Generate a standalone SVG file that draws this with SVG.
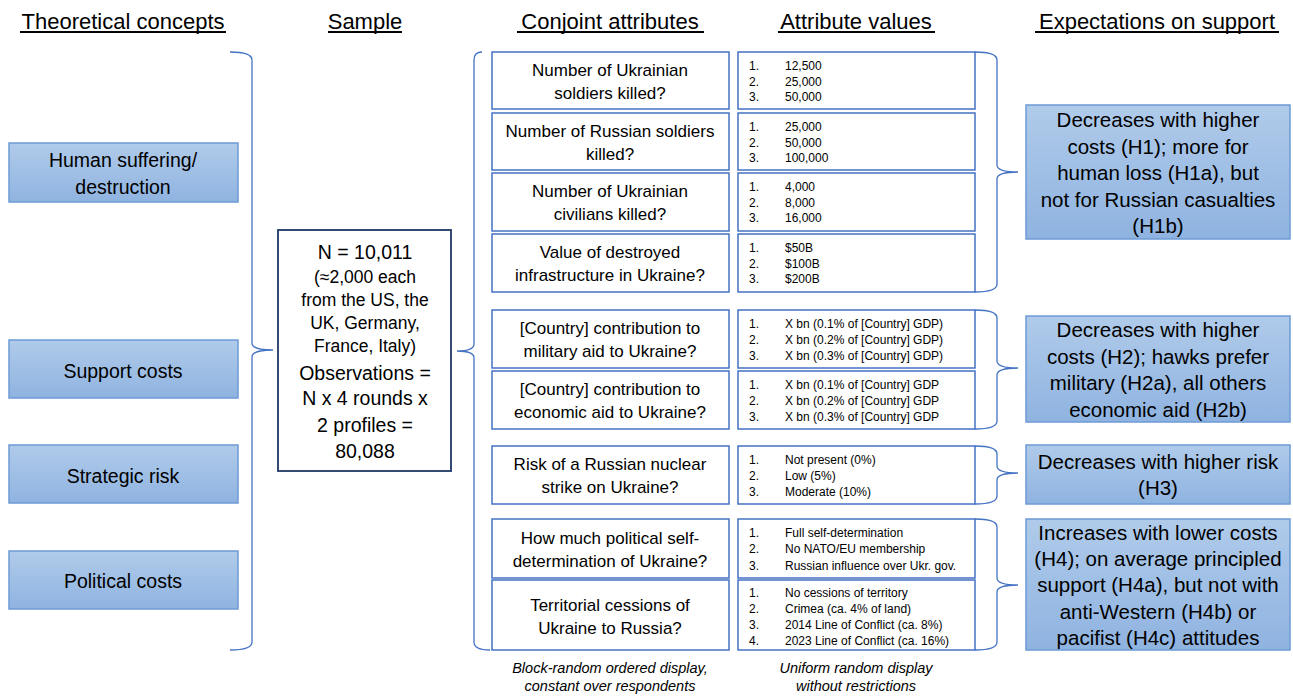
<svg xmlns="http://www.w3.org/2000/svg" width="1293" height="697" viewBox="0 0 1293 697">
<defs>
<linearGradient id="blueGrad" x1="0" y1="0" x2="0" y2="1">
<stop offset="0" stop-color="#b0cbea"/>
<stop offset="1" stop-color="#8fb3e0"/>
</linearGradient>
<style>
text{font-family:"Liberation Sans",Arial,sans-serif;fill:#000;}
.hdr{font-size:22px;text-anchor:middle;}
.uline{stroke:#000;stroke-width:2;}
.concept{fill:url(#blueGrad);stroke:#6d9ad6;stroke-width:1.5;}
.ctext{font-size:19.5px;text-anchor:middle;}
.attr{fill:#fff;stroke:#4472c4;stroke-width:1.5;}
.atext{font-size:17px;text-anchor:middle;}
.vtext{font-size:12px;}
.sample{fill:#fff;stroke:#1f3864;stroke-width:1.8;}
.stext{font-size:17.5px;text-anchor:middle;}
.sbig{font-size:19.5px;text-anchor:middle;}
.exp{fill:url(#blueGrad);stroke:#6d9ad6;stroke-width:1.5;}
.etext{font-size:20.5px;text-anchor:middle;}
.brace{fill:none;stroke:#4472c4;stroke-width:1.3;}
.note{font-size:14.5px;font-style:italic;text-anchor:middle;}
</style>
</defs>
<rect width="1293" height="697" fill="#fff"/>

<g id="headers">
<text class="hdr" x="123" y="29">Theoretical concepts</text>
<line class="uline" x1="20" y1="32" x2="226" y2="32"/>
<text class="hdr" x="365" y="29">Sample</text>
<line class="uline" x1="328" y1="32" x2="402" y2="32"/>
<text class="hdr" x="610" y="29">Conjoint attributes</text>
<line class="uline" x1="517" y1="32" x2="704" y2="32"/>
<text class="hdr" x="856" y="29">Attribute values</text>
<line class="uline" x1="778" y1="32" x2="935" y2="32"/>
<text class="hdr" x="1157" y="29">Expectations on support</text>
<line class="uline" x1="1035" y1="32" x2="1279" y2="32"/>
</g>

<g id="concept-human">
<rect class="concept" x="9" y="143" width="229" height="59"/>
<text class="ctext" x="123" y="167">Human suffering/</text>
<text class="ctext" x="123" y="194">destruction</text>
</g>
<g id="concept-support">
<rect class="concept" x="9" y="340" width="229" height="58"/>
<text class="ctext" x="123" y="378">Support costs</text>
</g>
<g id="concept-strategic">
<rect class="concept" x="9" y="445" width="229" height="58"/>
<text class="ctext" x="123" y="483">Strategic risk</text>
</g>
<g id="concept-political">
<rect class="concept" x="9" y="551" width="229" height="58"/>
<text class="ctext" x="123" y="588">Political costs</text>
</g>

<g id="sample">
<rect class="sample" x="278" y="230" width="173" height="241"/>
<text class="sbig" x="365" y="259">N = 10,011</text>
<text class="stext" x="365" y="283">(≈2,000 each</text>
<text class="stext" x="365" y="306">from the US, the</text>
<text class="stext" x="365" y="329">UK, Germany,</text>
<text class="stext" x="365" y="352">France, Italy)</text>
<text class="sbig" x="365" y="380">Observations =</text>
<text class="sbig" x="365" y="405">N x 4 rounds x</text>
<text class="sbig" x="365" y="432">2 profiles =</text>
<text class="sbig" x="365" y="458">80,088</text>
</g>

<g id="attr-ukr-soldiers">
<rect class="attr" x="492" y="52" width="237" height="57"/>
<text class="atext" x="610" y="76">Number of Ukrainian</text>
<text class="atext" x="610" y="99">soldiers killed?</text>
</g>
<g id="attr-rus-soldiers">
<rect class="attr" x="492" y="113" width="237" height="57"/>
<text class="atext" x="610" y="137">Number of Russian soldiers</text>
<text class="atext" x="610" y="160">killed?</text>
</g>
<g id="attr-civilians">
<rect class="attr" x="492" y="173" width="237" height="58"/>
<text class="atext" x="610" y="197">Number of Ukrainian</text>
<text class="atext" x="610" y="220">civilians killed?</text>
</g>
<g id="attr-infrastructure">
<rect class="attr" x="492" y="234" width="237" height="58"/>
<text class="atext" x="610" y="258">Value of destroyed</text>
<text class="atext" x="610" y="281">infrastructure in Ukraine?</text>
</g>
<g id="attr-military">
<rect class="attr" x="492" y="310" width="237" height="58"/>
<text class="atext" x="610" y="334">[Country] contribution to</text>
<text class="atext" x="610" y="357">military aid to Ukraine?</text>
</g>
<g id="attr-economic">
<rect class="attr" x="492" y="371" width="237" height="58"/>
<text class="atext" x="610" y="395">[Country] contribution to</text>
<text class="atext" x="610" y="418">economic aid to Ukraine?</text>
</g>
<g id="attr-nuclear">
<rect class="attr" x="492" y="446" width="237" height="58"/>
<text class="atext" x="610" y="470">Risk of a Russian nuclear</text>
<text class="atext" x="610" y="493">strike on Ukraine?</text>
</g>
<g id="attr-selfdet">
<rect class="attr" x="492" y="519" width="237" height="59"/>
<text class="atext" x="610" y="544">How much political self-</text>
<text class="atext" x="610" y="567">determination of Ukraine?</text>
</g>
<g id="attr-territory">
<rect class="attr" x="492" y="580" width="237" height="70"/>
<text class="atext" x="610" y="611">Territorial cessions of</text>
<text class="atext" x="610" y="634">Ukraine to Russia?</text>
</g>

<g id="val-ukr-soldiers">
<rect class="attr" x="738" y="52" width="237" height="57"/>
<text class="vtext" x="749" y="70">1.</text><text class="vtext" x="785" y="70">12,500</text>
<text class="vtext" x="749" y="85.5">2.</text><text class="vtext" x="785" y="85.5">25,000</text>
<text class="vtext" x="749" y="101">3.</text><text class="vtext" x="785" y="101">50,000</text>
</g>
<g id="val-rus-soldiers">
<rect class="attr" x="738" y="113" width="237" height="57"/>
<text class="vtext" x="749" y="131">1.</text><text class="vtext" x="785" y="131">25,000</text>
<text class="vtext" x="749" y="147">2.</text><text class="vtext" x="785" y="147">50,000</text>
<text class="vtext" x="749" y="162">3.</text><text class="vtext" x="785" y="162">100,000</text>
</g>
<g id="val-civilians">
<rect class="attr" x="738" y="173" width="237" height="58"/>
<text class="vtext" x="749" y="191">1.</text><text class="vtext" x="785" y="191">4,000</text>
<text class="vtext" x="749" y="207">2.</text><text class="vtext" x="785" y="207">8,000</text>
<text class="vtext" x="749" y="222">3.</text><text class="vtext" x="785" y="222">16,000</text>
</g>
<g id="val-infrastructure">
<rect class="attr" x="738" y="234" width="237" height="58"/>
<text class="vtext" x="749" y="252">1.</text><text class="vtext" x="785" y="252">$50B</text>
<text class="vtext" x="749" y="267.5">2.</text><text class="vtext" x="785" y="267.5">$100B</text>
<text class="vtext" x="749" y="283">3.</text><text class="vtext" x="785" y="283">$200B</text>
</g>
<g id="val-military">
<rect class="attr" x="738" y="310" width="237" height="58"/>
<text class="vtext" x="749" y="328">1.</text><text class="vtext" x="785" y="328">X bn (0.1% of [Country] GDP)</text>
<text class="vtext" x="749" y="344">2.</text><text class="vtext" x="785" y="344">X bn (0.2% of [Country] GDP)</text>
<text class="vtext" x="749" y="360">3.</text><text class="vtext" x="785" y="360">X bn (0.3% of [Country] GDP)</text>
</g>
<g id="val-economic">
<rect class="attr" x="738" y="371" width="237" height="58"/>
<text class="vtext" x="749" y="388.5">1.</text><text class="vtext" x="785" y="388.5">X bn (0.1% of [Country] GDP</text>
<text class="vtext" x="749" y="404.5">2.</text><text class="vtext" x="785" y="404.5">X bn (0.2% of [Country] GDP</text>
<text class="vtext" x="749" y="420.5">3.</text><text class="vtext" x="785" y="420.5">X bn (0.3% of [Country] GDP</text>
</g>
<g id="val-nuclear">
<rect class="attr" x="738" y="446" width="237" height="58"/>
<text class="vtext" x="749" y="463.5">1.</text><text class="vtext" x="785" y="463.5">Not present (0%)</text>
<text class="vtext" x="749" y="480">2.</text><text class="vtext" x="785" y="480">Low (5%)</text>
<text class="vtext" x="749" y="496">3.</text><text class="vtext" x="785" y="496">Moderate (10%)</text>
</g>
<g id="val-selfdet">
<rect class="attr" x="738" y="519" width="237" height="59"/>
<text class="vtext" x="749" y="536.5">1.</text><text class="vtext" x="785" y="536.5">Full self-determination</text>
<text class="vtext" x="749" y="553">2.</text><text class="vtext" x="785" y="553">No NATO/EU membership</text>
<text class="vtext" x="749" y="569.5">3.</text><text class="vtext" x="785" y="569.5">Russian influence over Ukr. gov.</text>
</g>
<g id="val-territory">
<rect class="attr" x="738" y="580" width="237" height="70"/>
<text class="vtext" x="749" y="596.5">1.</text><text class="vtext" x="785" y="596.5">No cessions of territory</text>
<text class="vtext" x="749" y="612.5">2.</text><text class="vtext" x="785" y="612.5">Crimea (ca. 4% of land)</text>
<text class="vtext" x="749" y="628.5">3.</text><text class="vtext" x="785" y="628.5">2014 Line of Conflict (ca. 8%)</text>
<text class="vtext" x="749" y="645">4.</text><text class="vtext" x="785" y="645">2023 Line of Conflict (ca. 16%)</text>
</g>

<g id="exp-h1">
<rect class="exp" x="1026" y="105" width="264" height="134"/>
<text class="etext" x="1158" y="127">Decreases with higher</text>
<text class="etext" x="1158" y="153.5">costs (H1); more for</text>
<text class="etext" x="1158" y="180">human loss (H1a), but</text>
<text class="etext" x="1158" y="206.5">not for Russian casualties</text>
<text class="etext" x="1158" y="233">(H1b)</text>
</g>
<g id="exp-h2">
<rect class="exp" x="1026" y="316" width="264" height="106"/>
<text class="etext" x="1158" y="337">Decreases with higher</text>
<text class="etext" x="1158" y="363.5">costs (H2); hawks prefer</text>
<text class="etext" x="1158" y="390">military (H2a), all others</text>
<text class="etext" x="1158" y="416.5">economic aid (H2b)</text>
</g>
<g id="exp-h3">
<rect class="exp" x="1026" y="445" width="264" height="59"/>
<text class="etext" x="1158" y="469">Decreases with higher risk</text>
<text class="etext" x="1158" y="495">(H3)</text>
</g>
<g id="exp-h4">
<rect class="exp" x="1026" y="519" width="264" height="131"/>
<text class="etext" x="1158" y="540">Increases with lower costs</text>
<text class="etext" x="1158" y="566">(H4); on average principled</text>
<text class="etext" x="1158" y="592">support (H4a), but not with</text>
<text class="etext" x="1158" y="618.5">anti-Western (H4b) or</text>
<text class="etext" x="1158" y="644.5">pacifist (H4c) attitudes</text>
</g>

<g id="connectors">
<path class="brace" d="M230,52 Q252,52 252,60 V343 Q252,350 273,350 Q252,350 252,357 V642 Q252,650 230,650"/>
<path class="brace" d="M482,52 Q474,52 474,60 V344 Q474,351 457,351 Q474,351 474,358 V642 Q474,650 490,650"/>
<path class="brace" d="M975,52 Q997,52 997,60 V165 Q997,172 1018,172 Q997,172 997,179 V284 Q997,292 975,292"/>
<path class="brace" d="M975,310 Q997,310 997,318 V361 Q997,368 1018,368 Q997,368 997,375 V421 Q997,429 975,429"/>
<path class="brace" d="M975,446 Q997,446 997,454 V466 Q997,473 1018,473 Q997,473 997,480 V496 Q997,504 975,504"/>
<path class="brace" d="M975,519 Q997,519 997,527 V578 Q997,585 1018,585 Q997,585 997,592 V642 Q997,650 975,650"/>
</g>

<g id="notes">
<text class="note" x="610" y="673">Block-random ordered display,</text>
<text class="note" x="610" y="691">constant over respondents</text>
<text class="note" x="856" y="673">Uniform random display</text>
<text class="note" x="856" y="691">without restrictions</text>
</g>
</svg>
